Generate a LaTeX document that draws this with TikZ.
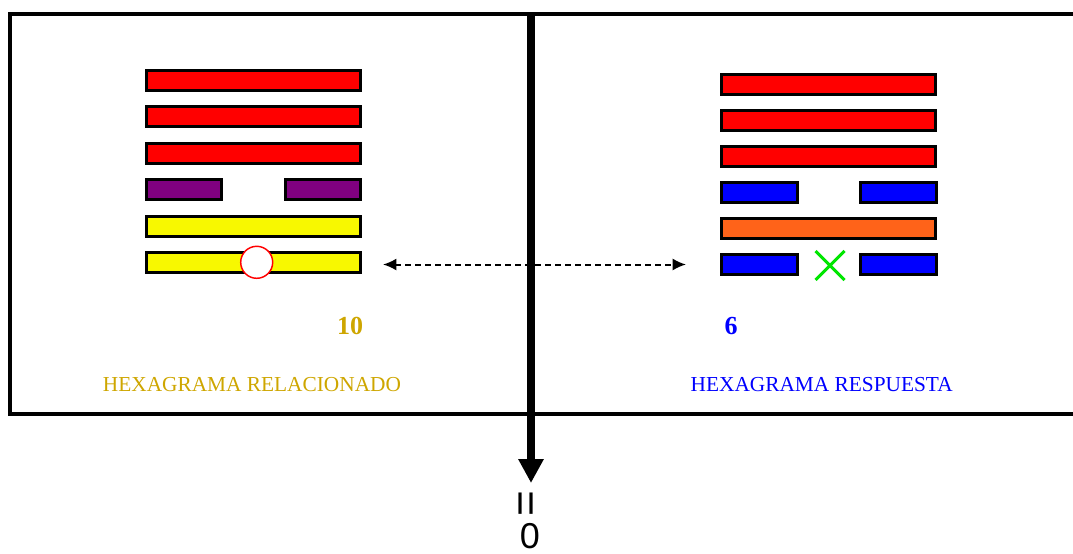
\documentclass[tikz,border=0pt]{standalone}
\usepackage{fontspec}
\setmainfont{Liberation Serif}
\newfontfamily\sansf{Liberation Sans}
\usetikzlibrary{arrows.meta,shapes.misc}
\definecolor{hred}{RGB}{255,0,0}
\definecolor{hpurple}{RGB}{128,0,128}
\definecolor{hyellow}{RGB}{248,248,0}
\definecolor{hblue}{RGB}{0,0,255}
\definecolor{horange}{RGB}{255,99,25}
\definecolor{hgold}{RGB}{206,166,0}
\definecolor{hgreen}{RGB}{0,230,0}
\begin{document}
\begin{tikzpicture}[x=0.75pt,y=-0.75pt,
  bar/.style={draw=black, line width=2.25pt, inner sep=0pt, minimum height=15pt},
  fullbar/.style={bar, minimum width=160.5pt},
  halfbar/.style={bar, minimum width=56.5pt},
  frameline/.style={line width=3pt},
  label/.style={inner sep=0pt, font=\fontsize{16}{18}\selectfont},
  num/.style={inner sep=0pt, font=\bfseries\fontsize{19.5}{22}\selectfont}]
\useasboundingbox (0,0) rectangle (1073,553);
% frame
\draw[frameline] (1073,14) -- (9.5,14) -- (9.5,413.5) -- (1073,413.5);
% left hexagram
\node[fullbar, fill=hred] (L1) at (253.4,80.4) {};
\node[fullbar, fill=hred] (L2) at (253.4,116.9) {};
\node[fullbar, fill=hred] (L3) at (253.4,153.4) {};
\node[halfbar, fill=hpurple] (L4a) at (183.9,189.9) {};
\node[halfbar, fill=hpurple] (L4b) at (322.9,189.9) {};
\node[fullbar, fill=hyellow] (L5) at (253.4,226.4) {};
\node[fullbar, fill=hyellow] (L6) at (253.4,262.9) {};
\node[circle, draw=hred, fill=white, line width=1.1pt, minimum size=24pt, inner sep=0pt] (circ) at (256.7,262.3) {};
% right hexagram
\node[fullbar, fill=hred] (R1) at (828.9,84.5) {};
\node[fullbar, fill=hred] (R2) at (828.9,120.5) {};
\node[fullbar, fill=hred] (R3) at (828.9,156.5) {};
\node[halfbar, fill=hblue] (R4a) at (759.5,192.5) {};
\node[halfbar, fill=hblue] (R4b) at (898.5,192.5) {};
\node[fullbar, fill=horange] (R5) at (828.9,228.5) {};
\node[halfbar, fill=hblue] (R6a) at (759.5,264.5) {};
\node[halfbar, fill=hblue] (R6b) at (898.5,264.5) {};
\node[cross out, draw=hgreen, line width=2.25pt, minimum size=19.5pt, inner sep=0pt] (xmark) at (830,265.5) {};
% numbers and labels
\node[num, text=hgold] (n10) at (350,326) {10};
\node[num, text=hblue] (n6) at (731,326) {6};
\node[label, text=hgold] (lab1) at (252,385) {HEXAGRAMA RELACIONADO};
\node[label, text=hblue] (lab2) at (821.7,385) {HEXAGRAMA RESPUESTA};
% dashed double arrow
\coordinate (da) at (383,264.5);
\coordinate (db) at (686,264.5);
\draw[line width=1.5pt, dash pattern=on 4.5pt off 3pt, {Latex[length=10pt,width=9pt]}-{Latex[length=10pt,width=9pt]}] (da) -- (db);
% central arrow
\coordinate (top) at (531,12);
\coordinate (tip) at (531,483);
\draw[line width=6pt, -{Triangle[length=18pt,width=18pt]}] (top) -- (tip);
% symbols below
\node[inner sep=0pt, rotate=90, font=\sansf\fontsize{33}{36}\selectfont] (eq) at (529.5,504) {=};
\node[inner sep=0pt, font=\sansf\fontsize{27}{30}\selectfont] (zero) at (530,536) {0};
\end{tikzpicture}
\end{document}
